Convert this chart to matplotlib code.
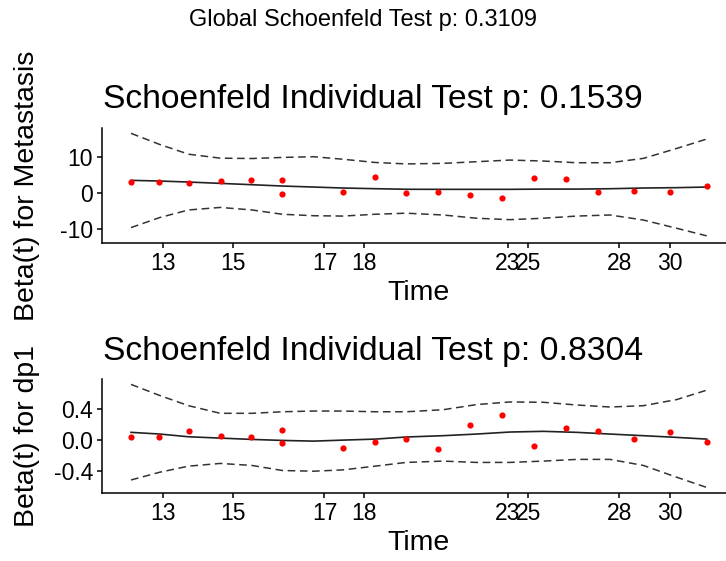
import matplotlib
matplotlib.use("Agg")
import matplotlib.pyplot as plt

plt.rcParams["font.family"] = ["Liberation Sans", "DejaVu Sans"]

# transformed (KM) time of each Schoenfeld residual, 0..1
point_x = [0, 0.049, 0.101, 0.156, 0.208, 0.262, 0.262, 0.368, 0.424, 0.478,
           0.534, 0.589, 0.645, 0.700, 0.755, 0.811, 0.874, 0.936, 1.0]
resid_metastasis = [2.87, 3.06, 2.78, 3.33, 3.52, 3.61, -0.37, 0.09, 4.26, -0.19,
                    0.28, -0.74, -1.39, 4.17, 3.80, 0.28, 0.56, 0.09, 1.85]
resid_dp1 = [0.043, 0.035, 0.117, 0.052, 0.043, 0.126, -0.043, -0.104, -0.026, 0.013,
             -0.117, 0.196, 0.317, -0.070, 0.157, 0.117, 0.013, 0.109, -0.026]

# smooth fit and confidence band
curve_x = [0, 0.05, 0.10, 0.155, 0.21, 0.263, 0.317, 0.368, 0.424, 0.478,
           0.542, 0.600, 0.658, 0.716, 0.774, 0.832, 0.890, 0.948, 1.0]
fit_metastasis = [3.43, 3.24, 2.96, 2.59, 2.22, 1.85, 1.57, 1.30, 1.11, 0.95,
                  0.93, 0.93, 0.93, 1.0, 1.0, 1.1, 1.3, 1.4, 1.57]
upper_metastasis = [16.5, 13.4, 10.7, 9.6, 9.5, 9.8, 10.0, 9.3, 8.4, 8.0,
                    8.15, 8.61, 9.07, 8.80, 8.33, 8.33, 9.54, 12.31, 14.91]
lower_metastasis = [-9.7, -6.9, -4.8, -4.1, -4.8, -6.0, -6.4, -6.5, -6.0, -5.7,
                    -6.2, -7.1, -7.5, -7.1, -6.5, -6.2, -7.6, -9.9, -12.0]
fit_dp1 = [0.100, 0.078, 0.043, 0.026, 0.009, -0.004, -0.013, 0.0, 0.013, 0.040,
           0.057, 0.078, 0.104, 0.113, 0.100, 0.078, 0.057, 0.035, 0.013]
upper_dp1 = [0.717, 0.574, 0.443, 0.345, 0.345, 0.365, 0.374, 0.374, 0.365, 0.365,
             0.391, 0.457, 0.491, 0.487, 0.452, 0.426, 0.443, 0.522, 0.643]
lower_dp1 = [-0.513, -0.413, -0.335, -0.300, -0.326, -0.391, -0.400, -0.383, -0.335, -0.287,
             -0.270, -0.287, -0.287, -0.270, -0.248, -0.248, -0.326, -0.478, -0.609]

time_ticks = [0.056, 0.177, 0.336, 0.405, 0.654, 0.690, 0.848, 0.936]
time_labels = ["13", "15", "17", "18", "23", "25", "28", "30"]

panels = [
    dict(resid=resid_metastasis, fit=fit_metastasis, upper=upper_metastasis,
         lower=lower_metastasis, ylabel="Beta(t) for Metastasis",
         title="Schoenfeld Individual Test p: 0.1539",
         yticks=[-10, 0, 10], yticklabels=["-10", "0", "10"],
         ylim=(-13.9, 17.9), rect=[0.1408, 0.5674, 0.8723, 0.2039], title_y=0.8075),
    dict(resid=resid_dp1, fit=fit_dp1, upper=upper_dp1, lower=lower_dp1,
         ylabel="Beta(t) for dp1",
         title="Schoenfeld Individual Test p: 0.8304",
         yticks=[-0.4, 0.0, 0.4], yticklabels=["-0.4", "0.0", "0.4"],
         ylim=(-0.677, 0.782), rect=[0.1408, 0.1217, 0.8723, 0.2021], title_y=0.3583),
]

fig = plt.figure(figsize=(7.26, 5.61), dpi=100)

fig.text(0.5, 0.964, "Global Schoenfeld Test p: 0.3109", ha="center", va="center",
         fontsize=17)

for p in panels:
    ax = fig.add_axes(p["rect"])
    ax.plot(curve_x, p["fit"], color="#222222", lw=1.2)
    ax.plot(curve_x, p["upper"], color="#333333", lw=1.1, linestyle=(0, (5, 3)))
    ax.plot(curve_x, p["lower"], color="#333333", lw=1.1, linestyle=(0, (5, 3)))
    ax.scatter(point_x, p["resid"], s=20, color="red", zorder=3, linewidths=0)

    ax.set_xlim(-0.05, 1.05)
    ax.set_ylim(*p["ylim"])
    ax.set_xticks(time_ticks)
    ax.set_xticklabels(time_labels)
    ax.set_yticks(p["yticks"])
    ax.set_yticklabels(p["yticklabels"])
    ax.tick_params(labelsize=16.5, length=3.6, width=1.1, pad=3, colors="black")

    for side in ["top", "right"]:
        ax.spines[side].set_visible(False)
    for side in ["left", "bottom"]:
        ax.spines[side].set_linewidth(1.1)

    ax.set_xlabel("Time", fontsize=20.5, labelpad=4)
    ax.set_ylabel(p["ylabel"], fontsize=20.5)
    ax.yaxis.set_label_coords(-0.098, 0.5)

    fig.text(0.1416, p["title_y"], p["title"], ha="left", va="baseline", fontsize=24.2)

fig.savefig("out.png", dpi=100)
